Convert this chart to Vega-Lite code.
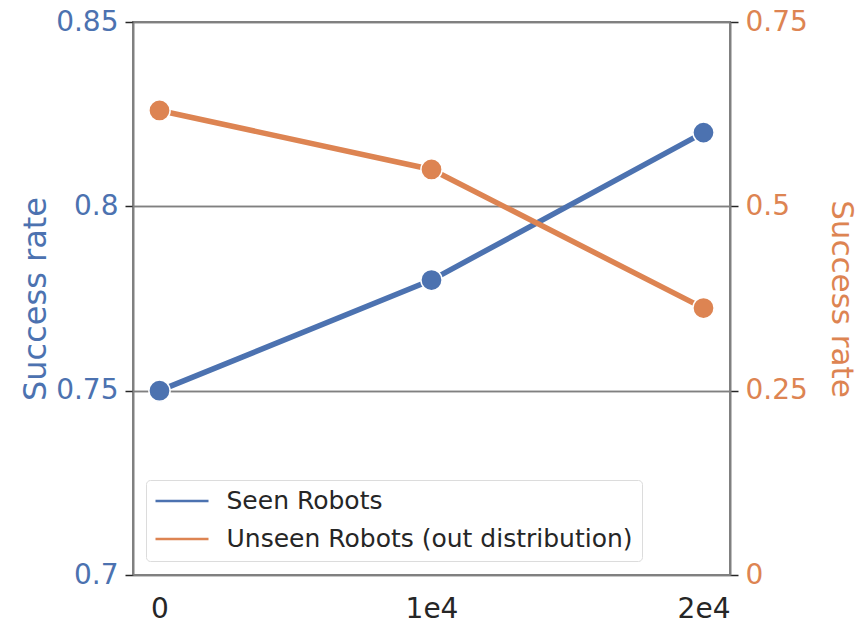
{
  "$schema": "https://vega.github.io/schema/vega-lite/v6.json",
  "width": 597,
  "height": 553,
  "autosize": {"type": "none"},
  "padding": {"left": 133, "top": 22, "right": 126, "bottom": 51},
  "background": "white",
  "config": {
    "font": "DejaVu Sans",
    "view": {"stroke": "#808080", "strokeWidth": 2}
  },
  "datasets": {
    "seen": [
      {"steps": "0", "rate": 0.75, "series": "Seen Robots"},
      {"steps": "1e4", "rate": 0.78, "series": "Seen Robots"},
      {"steps": "2e4", "rate": 0.82, "series": "Seen Robots"}
    ],
    "unseen": [
      {"steps": "0", "rate": 0.63, "series": "Unseen Robots (out distribution)"},
      {"steps": "1e4", "rate": 0.55, "series": "Unseen Robots (out distribution)"},
      {"steps": "2e4", "rate": 0.362, "series": "Unseen Robots (out distribution)"}
    ]
  },
  "layer": [
    {
      "data": {"name": "seen"},
      "encoding": {
        "x": {"field": "steps", "type": "ordinal", "sort": ["0", "1e4", "2e4"],
          "scale": {"type": "point", "padding": 0.0974},
          "axis": {"labelAngle": 0, "ticks": false, "domain": false, "labelFontSize": 28, "labelColor": "#262626", "labelPadding": 20, "title": null, "grid": false}},
        "y": {"field": "rate", "type": "quantitative",
          "scale": {"domain": [0.7, 0.85], "nice": false, "zero": false},
          "axis": {"orient": "left", "values": [0.7, 0.75, 0.8, 0.85], "format": ".2~f", "grid": true, "gridColor": "#808080", "gridWidth": 1.5,
            "domainColor": "#808080", "domainWidth": 2, "tickColor": "#262626", "tickSize": 8, "tickWidth": 1.5,
            "labelColor": "#4c72b0", "labelFontSize": 28, "labelPadding": 7,
            "title": "Success rate", "titleColor": "#4c72b0", "titleFontSize": 32, "titleFontWeight": "normal", "titlePadding": 3}}
      },
      "layer": [
        {"mark": {"type": "line", "strokeWidth": 5.5},
          "encoding": {"color": {"field": "series", "type": "nominal",
            "scale": {"domain": ["Seen Robots", "Unseen Robots (out distribution)"], "range": ["#4c72b0", "#dd8452"]},
            "legend": {"orient": "none", "legendX": 13, "legendY": 458, "title": null, "symbolType": "M-26.5,0H26.5", "symbolSize": 4, "symbolStrokeWidth": 2.5, "symbolOffset": 15,
              "labelFontSize": 25, "labelColor": "#262626", "labelLimit": 600, "padding": 8.5, "fillColor": "white", "strokeColor": "#dcdcdc", "cornerRadius": 4, "rowPadding": 12, "labelOffset": 32}}}},
        {"mark": {"type": "point", "filled": true, "fill": "#4c72b0", "stroke": "white", "strokeWidth": 1.5, "size": 450, "opacity": 1}}
      ]
    },
    {
      "data": {"name": "unseen"},
      "encoding": {
        "x": {"field": "steps", "type": "ordinal", "sort": ["0", "1e4", "2e4"],
          "scale": {"type": "point", "padding": 0.0974},
          "axis": {"labelAngle": 0, "ticks": false, "domain": false, "labelFontSize": 28, "labelColor": "#262626", "labelPadding": 20, "title": null, "grid": false}},
        "y": {"field": "rate", "type": "quantitative",
          "scale": {"domain": [0, 0.75], "nice": false, "zero": false},
          "axis": {"orient": "right", "values": [0, 0.25, 0.5, 0.75], "format": ".2~f", "grid": true, "gridColor": "#808080", "gridWidth": 1.5,
            "domainColor": "#808080", "domainWidth": 2, "tickColor": "#262626", "tickSize": 8, "tickWidth": 1.5,
            "labelColor": "#dd8452", "labelFontSize": 28, "labelPadding": 7,
            "title": "Success rate", "titleColor": "#dd8452", "titleFontSize": 31, "titleFontWeight": "normal", "titlePadding": 17}}
      },
      "layer": [
        {"mark": {"type": "line", "strokeWidth": 5.5},
          "encoding": {"color": {"field": "series", "type": "nominal",
            "scale": {"domain": ["Seen Robots", "Unseen Robots (out distribution)"], "range": ["#4c72b0", "#dd8452"]},
            "legend": {"orient": "none", "legendX": 13, "legendY": 458, "title": null, "symbolType": "M-26.5,0H26.5", "symbolSize": 4, "symbolStrokeWidth": 2.5, "symbolOffset": 15,
              "labelFontSize": 25, "labelColor": "#262626", "labelLimit": 600, "padding": 8.5, "fillColor": "white", "strokeColor": "#dcdcdc", "cornerRadius": 4, "rowPadding": 12, "labelOffset": 32}}}},
        {"mark": {"type": "point", "filled": true, "fill": "#dd8452", "stroke": "white", "strokeWidth": 1.5, "size": 450, "opacity": 1}}
      ]
    }
  ],
  "resolve": {"scale": {"y": "independent"}}
}
